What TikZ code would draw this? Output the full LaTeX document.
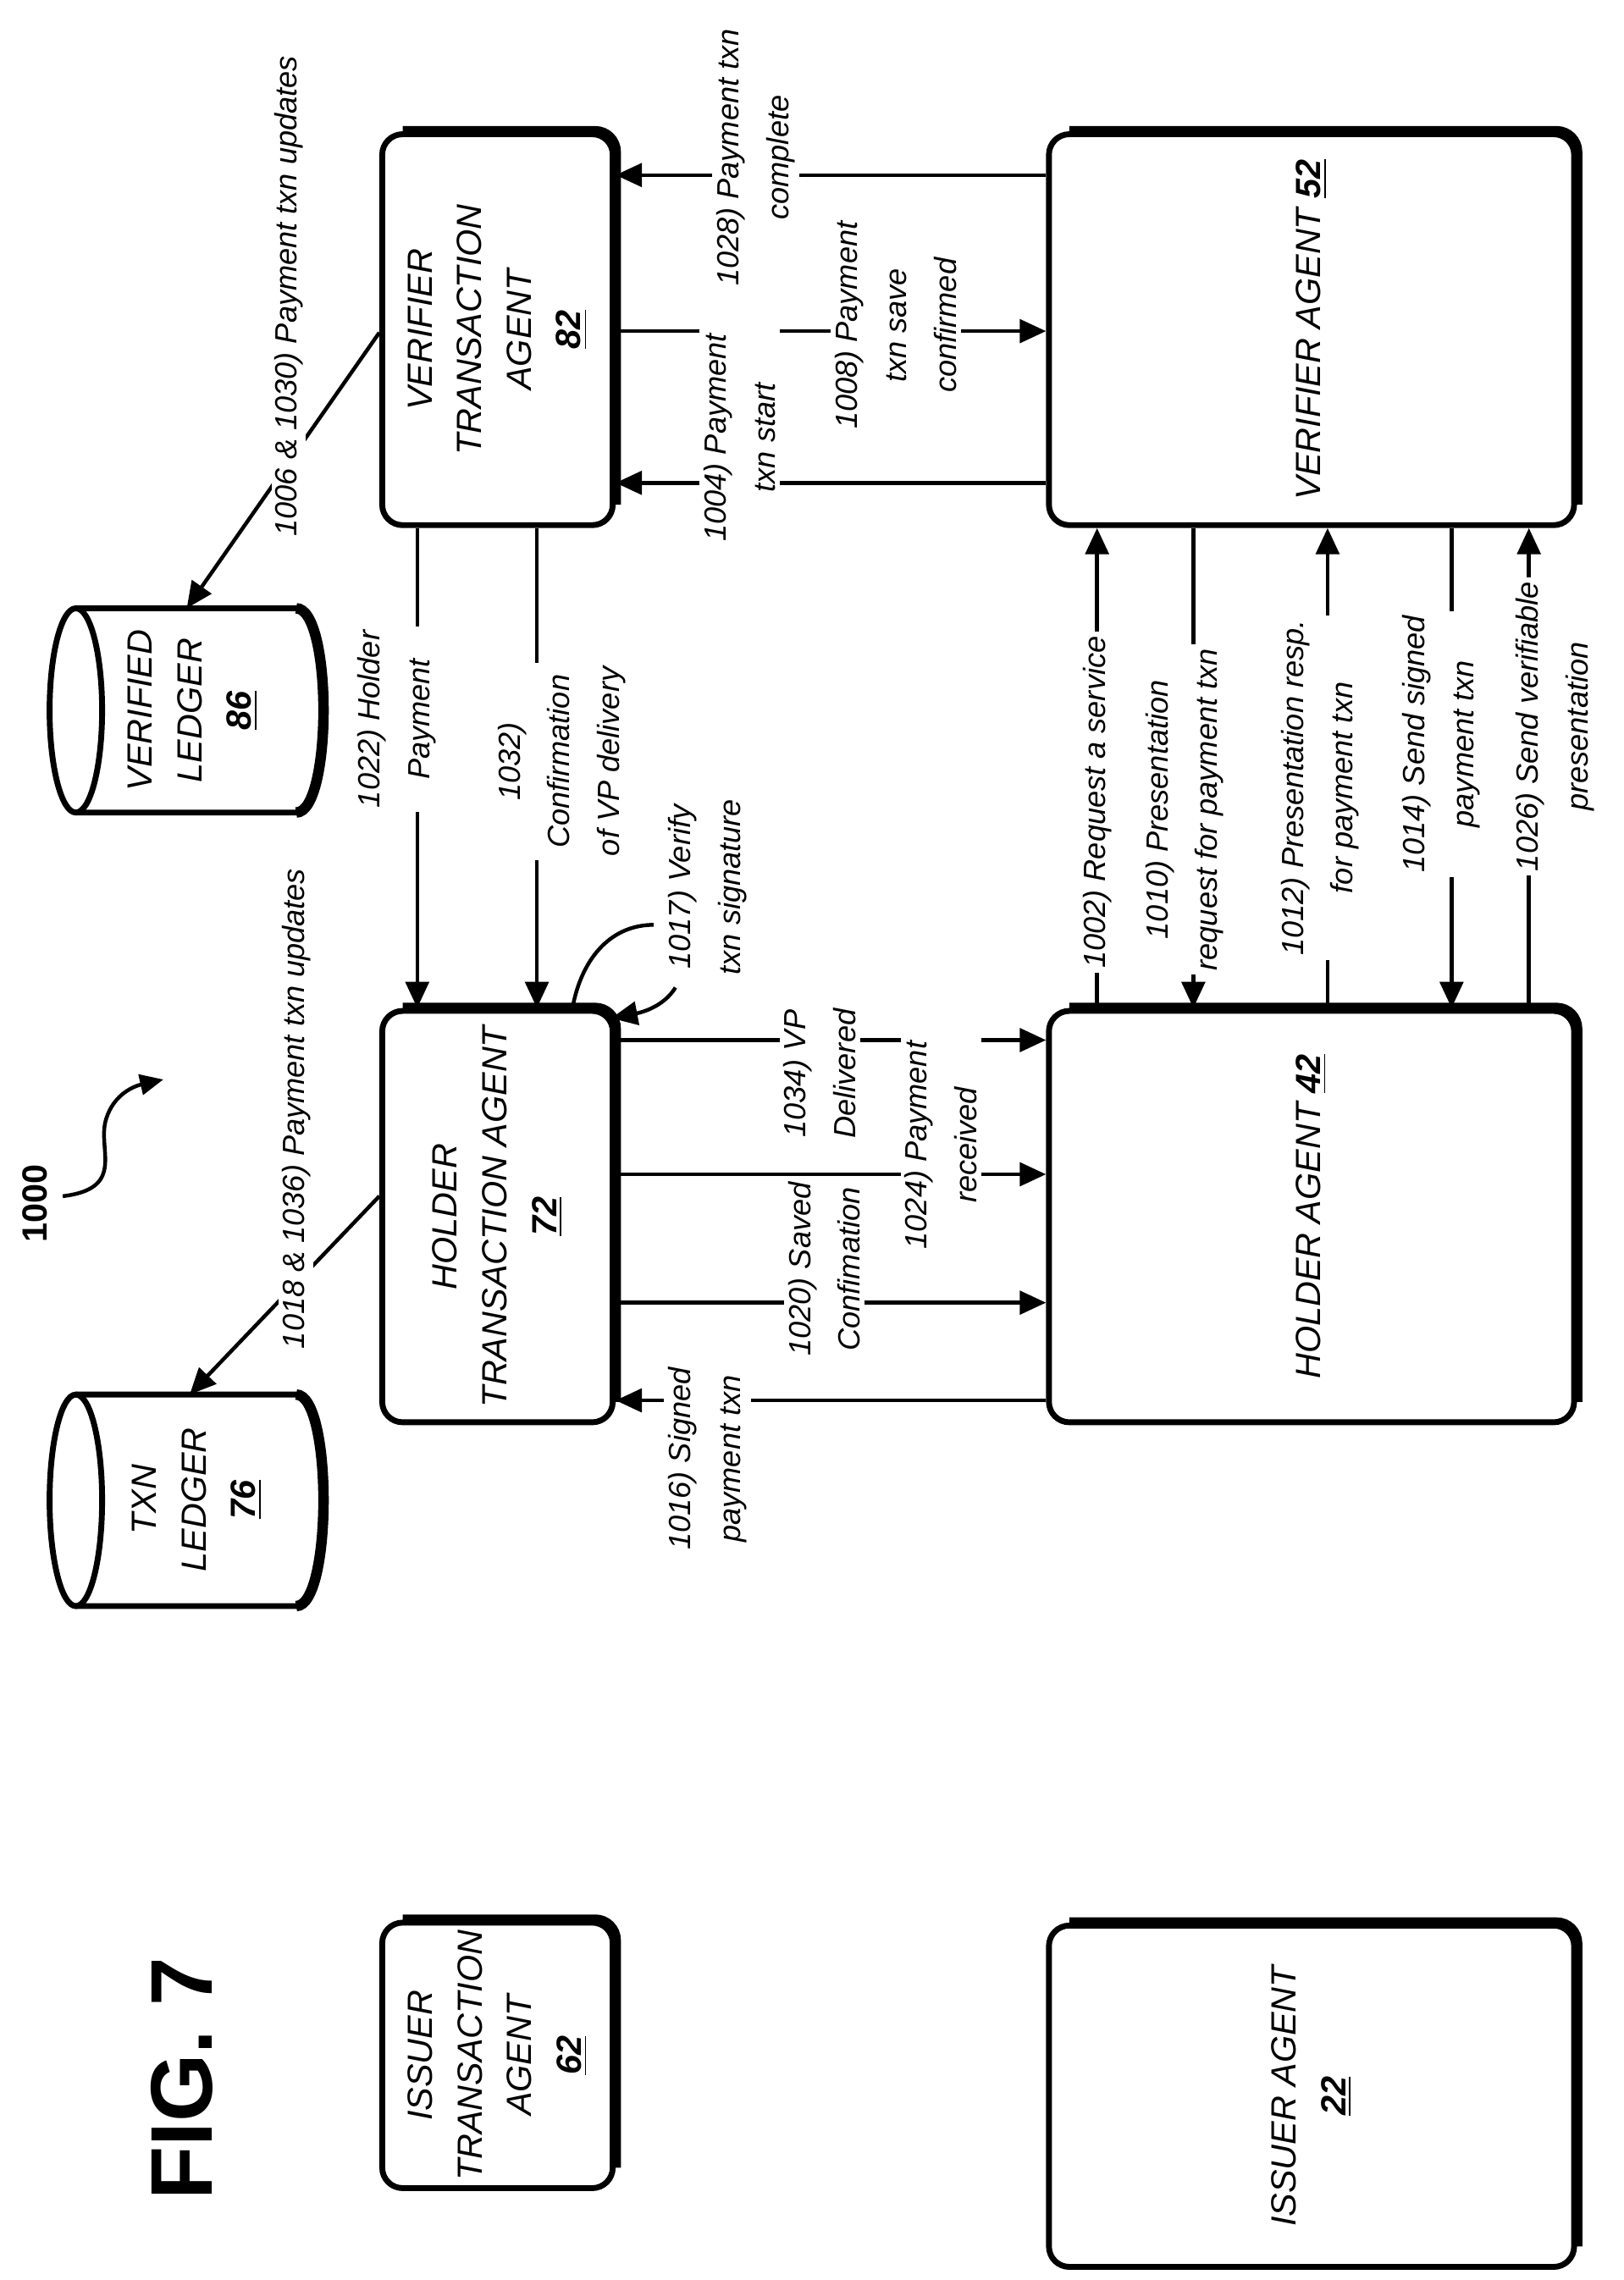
\documentclass[tikz,border=0pt]{standalone}
\usepackage{fontspec}
\setmainfont{Liberation Sans}
\usetikzlibrary{arrows.meta,calc}
\begin{document}
\begin{tikzpicture}[x=0.5pt,y=-0.5pt,
  box/.style={draw,line width=2pt,rounded corners=7pt,inner sep=0pt},
  shadow/.style={line width=3.6pt,rounded corners=7pt},
  bt/.style={rotate=90,align=center,font=\itshape\fontsize{12}{17}\selectfont},
  lab/.style={rotate=90,align=center,fill=white,inner sep=1.5pt,font=\itshape\fontsize{10.5}{17}\selectfont},
  arr/.style={line width=1.3pt,-{Triangle[length=9pt,width=8pt]}},
  cyl/.style={line width=2pt}]
\path[use as bounding box] (0,0) rectangle (1113,1563);
% boxes
\node[box,minimum width=79pt,minimum height=134pt] (vta) at (341,226) {};
\node[box,minimum width=180pt,minimum height=134pt] (va) at (899,226) {};
\node[box,minimum width=79pt,minimum height=141pt] (hta) at (341,834) {};
\node[box,minimum width=180pt,minimum height=141pt] (ha) at (899,834) {};
\node[box,minimum width=79pt,minimum height=91pt] (ita) at (341,1409) {};
\node[box,minimum width=180pt,minimum height=117pt] (ia) at (899,1437) {};
\foreach \b in {vta,va,hta,ha,ita,ia}
  \draw[shadow] ([xshift=8pt]\b.north west) -- (\b.north east) -- ([yshift=8pt]\b.south east);
\node[bt] (vtat) at (vta) {VERIFIER\\TRANSACTION\\AGENT\\\underline{\textbf{82}}};
\node[bt] (vat) at (va) {VERIFIER AGENT \underline{\textbf{52}}};
\node[bt] (htat) at (hta) {HOLDER\\TRANSACTION AGENT\\\underline{\textbf{72}}};
\node[bt] (hat) at (ha) {HOLDER AGENT \underline{\textbf{42}}};
\node[bt] (itat) at (ita) {ISSUER\\TRANSACTION\\AGENT\\\underline{\textbf{62}}};
\node[bt] (iat) at (ia) {ISSUER AGENT\\\underline{\textbf{22}}};
% ledgers
\draw[cyl] (52,417) -- (203,417) .. controls (228,417) and (228,557) .. (203,557) -- (52,557);
\draw[line width=3.6pt] (203,417) .. controls (228,417) and (228,557) .. (203,557);
\draw[cyl] (52,487) ellipse [x radius=18,y radius=70];
\coordinate (vl) at (128,417);
\node[bt] (vlt) at (132,487) {VERIFIED\\LEDGER\\\underline{\textbf{86}}};
\draw[cyl] (52,956) -- (203,956) .. controls (228,956) and (228,1101) .. (203,1101) -- (52,1101);
\draw[line width=3.6pt] (203,956) .. controls (228,956) and (228,1101) .. (203,1101);
\draw[cyl] (52,1028.5) ellipse [x radius=18,y radius=72.5];
\coordinate (tl) at (130,956);
\node[bt] (tlt) at (135,1028) {TXN\\LEDGER\\\underline{\textbf{76}}};
% fig and 1000
\node[rotate=90,font=\bfseries\fontsize{30}{34}\selectfont] (fig) at (125,1425) {FIG. 7};
\node[rotate=90,font=\bfseries\fontsize{12}{16}\selectfont] (n1000) at (24,825) {1000};
\coordinate (sq1) at (43,820);
\coordinate (sq2) at (112,740);
\draw[line width=1.3pt,-{Triangle[length=8pt,width=7pt]}] (sq1) .. controls (85,815) and (68,790) .. (72,770) .. controls (76,752) and (90,745) .. (sq2);
% ledger arrows
\draw[arr] (vta.west |- 0,228) -- (vl);
\node[rotate=90,fill=white,inner sep=1pt,font=\itshape\fontsize{10.5}{17}\selectfont] (l1006) at (198,203) {1006 \& 1030) Payment txn updates};
\draw[arr] (hta.west |- 0,820) -- (tl);
\node[rotate=90,fill=white,inner sep=1pt,font=\itshape\fontsize{10.5}{17}\selectfont] (l1018) at (203,760) {1018 \& 1036) Payment txn updates};
% VTA <-> VA
\draw[arr] (va.west |- 0,120) -- (vta.east |- 0,120);
\node[lab] (l1028) at (518,108) {1028) Payment txn\\complete};
\draw[arr] (vta.east |- 0,227) -- (va.west |- 0,227);
\node[lab] (l1008) at (614,223) {1008) Payment\\txn save\\confirmed};
\draw[arr] (va.west |- 0,331) -- (vta.east |- 0,331);
\node[lab] (l1004) at (507,300) {1004) Payment\\txn start};
% VTA -> HTA
\draw[arr] (286,0 |- vta.south) -- (286,0 |- hta.north);
\node[lab] (l1022) at (272,493) {1022) Holder\\Payment};
\draw[arr] (368,0 |- vta.south) -- (368,0 |- hta.north);
\node[lab] (l1032) at (385,522) {1032)\\Confirmation\\of VP delivery};
% 1017
\coordinate (c1) at (393,688);
\coordinate (c1e) at (448,634);
\coordinate (c2s) at (463,677);
\coordinate (c2) at (419,698);
\draw[line width=1.3pt] (c1) .. controls (400,655) and (420,634) .. (c1e);
\draw[arr] (c2s) .. controls (455,690) and (440,694) .. (c2);
\node[rotate=90,align=center,font=\itshape\fontsize{10.5}{17}\selectfont] (l1017) at (485,608) {1017) Verify\\txn signature};
% HTA <-> HA
\draw[arr] (hta.east |- 0,713) -- (ha.west |- 0,713);
\node[lab] (l1034) at (562,736) {1034) VP\\Delivered};
\draw[arr] (hta.east |- 0,805) -- (ha.west |- 0,805);
\node[lab] (l1024) at (645,785) {1024) Payment\\received};
\draw[arr] (hta.east |- 0,893) -- (ha.west |- 0,893);
\node[lab] (l1020) at (565,870) {1020) Saved\\Confimation};
\draw[arr] (ha.west |- 0,960) -- (hta.east |- 0,960);
\node[lab] (l1016) at (485,1000) {1016) Signed\\payment txn};
% HA <-> VA
\draw[arr] (752,0 |- ha.north) -- (752,0 |- va.south);
\node[lab] (l1002) at (752,550) {1002) Request a service};
\draw[arr] (818,0 |- va.south) -- (818,0 |- ha.north);
\node[lab] (l1010) at (812,555) {1010) Presentation\\request for payment txn};
\draw[arr] (910,0 |- ha.north) -- (910,0 |- va.south);
\node[lab] (l1012) at (905,540) {1012) Presentation resp.\\for payment txn};
\draw[arr] (995,0 |- va.south) -- (995,0 |- ha.north);
\node[lab] (l1014) at (988,510) {1014) Send signed\\payment txn};
\draw[arr] (1048,0 |- ha.north) -- (1048,0 |- va.south);
\node[lab] (l1026) at (1066,498) {1026) Send verifiable\\presentation};
\end{tikzpicture}
\end{document}
